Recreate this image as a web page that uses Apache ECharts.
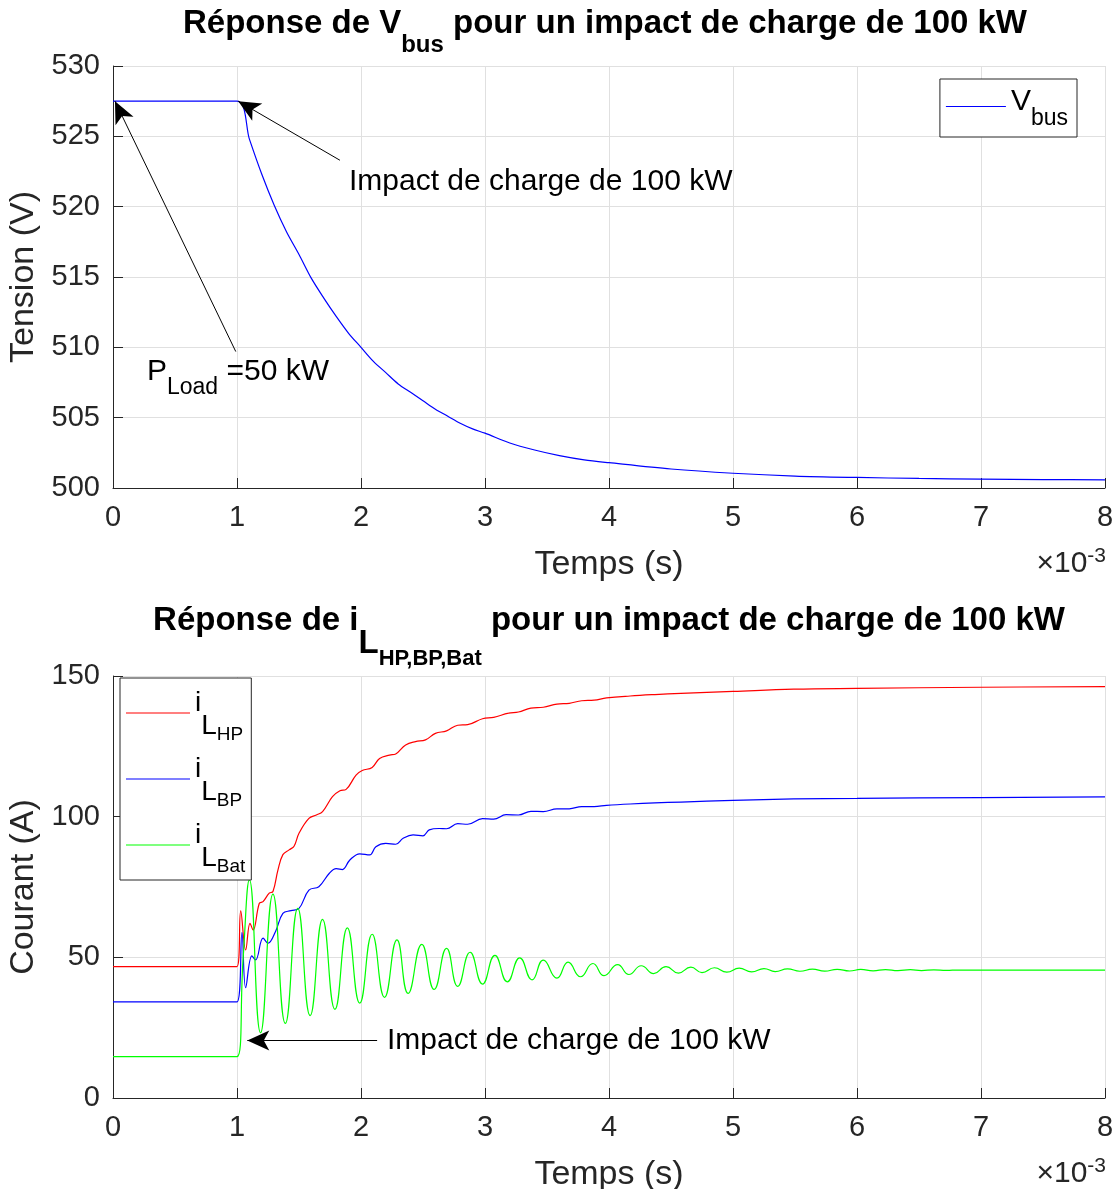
<!DOCTYPE html>
<html><head><meta charset="utf-8">
<script src="https://cdn.jsdelivr.net/npm/echarts@6/dist/echarts.min.js"></script>
<style>html,body{margin:0;padding:0;background:#fff}#c{width:1120px;height:1189px}</style>
</head><body><div id="c"></div>
<script>
// ---- data (time in ms, i.e. x 10^-3 s) ----
const xTicks = [0, 1, 2, 3, 4, 5, 6, 7, 8];
const yTicksTop = [500, 505, 510, 515, 520, 525, 530];
const yTicksBottom = [0, 50, 100, 150];

const vbusT = [0, 1.0, 1.1, 1.2, 1.3, 1.4, 1.5, 1.6, 1.7, 1.8, 1.9, 2.0, 2.1, 2.2, 2.3, 2.4, 2.5, 2.6, 2.7, 2.8, 2.9, 3.0, 3.2, 3.4, 3.6, 3.8, 4.0, 4.5, 5.0, 5.5, 6.0, 6.5, 7.0, 7.5, 8.0];
const vbusV = [527.5, 527.5, 524.8, 522.3, 520.1, 518.2, 516.6, 514.9, 513.5, 512.2, 511.0, 510.0, 509.0, 508.2, 507.4, 506.8, 506.2, 505.6, 505.1, 504.6, 504.2, 503.9, 503.2, 502.7, 502.3, 502.0, 501.8, 501.35, 501.05, 500.85, 500.75, 500.68, 500.63, 500.6, 500.58];

const ihpT = [0, 1.0, 1.03, 1.07, 1.105, 1.13, 1.18, 1.21, 1.26, 1.29, 1.33, 1.37, 1.42, 1.46, 1.50, 1.58, 1.64, 1.69, 1.77, 1.83, 1.88, 1.96, 2.01, 2.09, 2.15, 2.23, 2.28, 2.36, 2.44, 2.52, 2.60, 2.69, 2.78, 2.86, 2.98, 3.07, 3.19, 3.27, 3.37, 3.47, 3.58, 3.68, 3.78, 3.88, 3.98, 4.17, 4.37, 4.58, 5.0, 5.49, 6.0, 7.0, 8.0];
const ihpV = [46.7, 46.7, 66.5, 52.6, 62.1, 59.7, 69.2, 69.8, 72.8, 73.4, 81.0, 86.5, 88.2, 89.5, 94.1, 99.4, 100.6, 101.8, 107.1, 109.2, 109.7, 114.8, 116.4, 117.5, 120.7, 121.9, 122.3, 125.5, 126.7, 127.3, 129.6, 130.5, 132.5, 132.7, 134.8, 135.3, 136.8, 137.2, 138.6, 138.9, 140.0, 140.3, 141.2, 141.4, 142.2, 142.9, 143.4, 143.8, 144.5, 145.3, 145.6, 146.0, 146.2];

const ibpT = [0, 1.0, 1.04, 1.07, 1.12, 1.15, 1.21, 1.25, 1.31, 1.37, 1.435, 1.50, 1.58, 1.66, 1.745, 1.80, 1.85, 1.91, 1.99, 2.07, 2.12, 2.20, 2.28, 2.34, 2.42, 2.50, 2.55, 2.63, 2.69, 2.78, 2.86, 2.98, 3.07, 3.17, 3.27, 3.37, 3.47, 3.58, 3.68, 3.78, 3.88, 3.98, 4.17, 4.37, 4.58, 5.0, 5.49, 6.0, 7.0, 8.0];
const ibpV = [34.2, 34.2, 58.8, 39.2, 50.5, 49.1, 56.8, 55.0, 59.1, 65.6, 66.6, 67.4, 73.9, 75.1, 79.9, 81.5, 81.2, 84.6, 86.8, 86.4, 89.3, 90.5, 90.2, 92.3, 93.5, 93.2, 95.3, 95.8, 95.7, 97.5, 97.3, 99.3, 99.1, 100.7, 100.6, 101.9, 101.8, 102.8, 102.8, 103.6, 103.6, 104.0, 104.5, 104.9, 105.2, 105.8, 106.3, 106.5, 106.8, 107.0];

const ibatT = [0, 1.0, 1.05, 1.10, 1.19, 1.29, 1.39, 1.49, 1.59, 1.69, 1.79, 1.89, 1.99, 2.09, 2.19, 2.29, 2.38, 2.49, 2.59, 2.69, 2.78, 2.88, 2.98, 3.08, 3.18, 3.28, 3.38, 3.47, 3.58, 3.67, 3.77, 3.87, 3.96, 4.07, 4.16, 4.26, 4.36, 4.46, 4.56, 4.66, 4.75, 4.85, 4.95, 5.05, 5.15, 5.25, 5.34, 5.44, 5.54, 5.64, 5.74, 5.84, 5.94, 6.03, 6.13, 6.23, 6.33, 6.43, 6.52, 6.62, 6.72, 6.82, 7.0, 8.0];
const ibatV = [14.7, 14.7, 50.0, 77.5, 23.2, 72.5, 26.5, 67.4, 29.3, 63.5, 31.5, 60.5, 33.7, 58.2, 35.8, 56.2, 37.2, 54.6, 38.6, 53.2, 39.7, 51.8, 40.5, 50.7, 41.3, 49.8, 42.0, 49.0, 42.6, 48.3, 43.1, 47.8, 43.5, 47.4, 43.9, 47.0, 44.2, 46.7, 44.4, 46.5, 44.6, 46.3, 44.75, 46.15, 44.85, 46.0, 44.95, 45.9, 45.05, 45.8, 45.1, 45.75, 45.15, 45.7, 45.2, 45.65, 45.25, 45.6, 45.3, 45.55, 45.35, 45.5, 45.45, 45.45];

// annotation anchor points (data coordinates)
const arrowImpactTop = [[1.83, 523.3], [1.01, 527.5]];
const arrowPLoad = [[0.99, 509.7], [0.016, 527.5]];
const arrowImpactBottom = [[2.13, 20.4], [1.083, 20.4]];
const textImpactTop = [1.903, 521.76];
const textPLoad = [0.274, 508.27];
const textImpactBottom = [2.21, 20.4];

// ---- chart ----
const FONT = '"Liberation Sans", Arial, Helvetica, sans-serif';
const AX = '#262626';
const GRIDC = '#e0e0e0';
const pairs = (t, v) => t.map((x, i) => [x, v[i]]);

function xAxisCfg(gi) {
  return {
    type: 'value', gridIndex: gi, min: xTicks[0], max: xTicks[xTicks.length - 1], interval: xTicks[1] - xTicks[0],
    name: 'Temps (s)', nameLocation: 'middle', nameGap: 60,
    nameTextStyle: { fontSize: 34, color: AX, fontFamily: FONT },
    axisLine: { show: true, onZero: false, lineStyle: { color: AX, width: 1 } },
    axisTick: { show: true, inside: true, length: 10, lineStyle: { color: AX, width: 1 } },
    axisLabel: { fontSize: 29, color: AX, fontFamily: FONT, margin: 15 },
    splitLine: { show: true, lineStyle: { color: GRIDC, width: 1 } }
  };
}
function yAxisCfg(gi, ticks, name) {
  return {
    type: 'value', gridIndex: gi, min: ticks[0], max: ticks[ticks.length - 1], interval: ticks[1] - ticks[0],
    name: name, nameLocation: 'middle', nameGap: 68,
    nameTextStyle: { fontSize: 34, color: AX, fontFamily: FONT },
    axisLine: { show: true, onZero: false, lineStyle: { color: AX, width: 1 } },
    axisTick: { show: true, inside: true, length: 10, lineStyle: { color: AX, width: 1 } },
    axisLabel: { fontSize: 29, color: AX, fontFamily: FONT, margin: 13 },
    splitLine: { show: true, lineStyle: { color: GRIDC, width: 1 } }
  };
}
function arrowLine(seg) {
  return [
    { coord: seg[0], symbol: 'none' },
    { coord: seg[1], symbol: 'arrow', symbolSize: [15, 22] }
  ];
}
const markLineBase = {
  silent: true, animation: false,
  lineStyle: { color: '#000', width: 1, type: 'solid' },
  label: { show: false }, emphasis: { disabled: true },
  itemStyle: { color: '#000' }
};
const markPointBase = {
  silent: true, animation: false, symbol: 'circle', symbolSize: 0,
  itemStyle: { color: 'rgba(0,0,0,0)' },
  label: { show: true, position: 'right', distance: 0, color: '#000', fontSize: 30, fontFamily: FONT }
};

const legendNames = {
  'Vbus': '{m|V}{s|bus}',
  'iL_HP': '{i|i}{l|L}{s|HP}',
  'iL_BP': '{i|i}{l|L}{s|BP}',
  'iL_Bat': '{i|i}{l|L}{s|Bat}'
};
const seriesColors = { 'Vbus': '#0000ff', 'iL_HP': '#ff0000', 'iL_BP': '#0000ff', 'iL_Bat': '#00ff00' };
const legendItem = n => ({ name: n, itemStyle: { color: seriesColors[n], borderWidth: 0 } });

const option = {
  animation: false,
  backgroundColor: '#fff',
  grid: [
    { left: 113, right: 15, top: 66, height: 422, outerBoundsMode: 'none', containLabel: false },
    { left: 113, right: 15, top: 676, height: 422, outerBoundsMode: 'none', containLabel: false }
  ],
  xAxis: [xAxisCfg(0), xAxisCfg(1)],
  yAxis: [yAxisCfg(0, yTicksTop, 'Tension (V)'), yAxisCfg(1, yTicksBottom, 'Courant (A)')],
  legend: [
    {
      data: ['Vbus'].map(legendItem), top: 79, right: 43, orient: 'vertical',
      icon: 'rect', itemWidth: 60, itemHeight: 1, selectedMode: false,
      padding: [8, 9, 7, 6], borderColor: AX, borderWidth: 1, backgroundColor: '#fff',
      formatter: n => legendNames[n],
      textStyle: {
        color: '#000', fontFamily: FONT, fontSize: 30,
        rich: {
          m: { fontSize: 30, lineHeight: 39, verticalAlign: 'top', padding: [0, 0, 0, 0], fontFamily: FONT, color: '#000' },
          s: { fontSize: 23, lineHeight: 39, verticalAlign: 'top', padding: [20, 0, 0, 0], fontFamily: FONT, color: '#000' }
        }
      }
    },
    {
      data: ['iL_HP', 'iL_BP', 'iL_Bat'].map(legendItem), top: 678, left: 120, orient: 'vertical',
      icon: 'rect', itemWidth: 64, itemHeight: 1, itemGap: 5, selectedMode: false,
      padding: [5, 6, 4, 6], borderColor: AX, borderWidth: 1, backgroundColor: '#fff',
      formatter: n => legendNames[n],
      textStyle: {
        color: '#000', fontFamily: FONT, fontSize: 28,
        rich: {
          i: { fontSize: 28, lineHeight: 60, verticalAlign: 'top', padding: [6, 0, 0, 0], fontFamily: FONT, color: '#000' },
          l: { fontSize: 28, lineHeight: 60, verticalAlign: 'top', padding: [29, 0, 0, 0], fontFamily: FONT, color: '#000' },
          s: { fontSize: 19, lineHeight: 60, verticalAlign: 'top', padding: [42, 0, 0, 0], fontFamily: FONT, color: '#000' }
        }
      }
    }
  ],
  graphic: [
    {
      type: 'text', x: 605, y: 7, silent: true,
      style: {
        text: '{a|Réponse de V}{s|bus}{a| pour un impact de charge de 100 kW}',
        align: 'center', verticalAlign: 'top', fill: '#000', fontFamily: FONT,
        rich: {
          a: { fontSize: 33, fontWeight: 'bold', lineHeight: 33, verticalAlign: 'top', fontFamily: FONT, fill: '#000' },
          s: { fontSize: 24, fontWeight: 'bold', lineHeight: 33, verticalAlign: 'top', padding: [26, 0, 0, 0], fontFamily: FONT, fill: '#000' }
        }
      }
    },
    {
      type: 'text', x: 609, y: 604, silent: true,
      style: {
        text: '{a|Réponse de i}{l|L}{s|HP,BP,Bat}{a| pour un impact de charge de 100 kW}',
        align: 'center', verticalAlign: 'top', fill: '#000', fontFamily: FONT,
        rich: {
          a: { fontSize: 33, fontWeight: 'bold', lineHeight: 33, verticalAlign: 'top', fontFamily: FONT, fill: '#000' },
          l: { fontSize: 33, fontWeight: 'bold', lineHeight: 33, verticalAlign: 'top', padding: [23, 0, 0, 0], fontFamily: FONT, fill: '#000' },
          s: { fontSize: 22, fontWeight: 'bold', lineHeight: 33, verticalAlign: 'top', padding: [44, 0, 0, 0], fontFamily: FONT, fill: '#000' }
        }
      }
    },
    {
      type: 'text', x: 1106, y: 546, silent: true,
      style: {
        text: '{a|×10}{b|-3}', align: 'right', verticalAlign: 'top', fill: AX, fontFamily: FONT,
        rich: {
          a: { fontSize: 30, lineHeight: 30, verticalAlign: 'top', padding: [3, 0, 0, 0], fontFamily: FONT, fill: AX },
          b: { fontSize: 21, lineHeight: 30, verticalAlign: 'top', fontFamily: FONT, fill: AX }
        }
      }
    },
    {
      type: 'text', x: 1106, y: 1156, silent: true,
      style: {
        text: '{a|×10}{b|-3}', align: 'right', verticalAlign: 'top', fill: AX, fontFamily: FONT,
        rich: {
          a: { fontSize: 30, lineHeight: 30, verticalAlign: 'top', padding: [3, 0, 0, 0], fontFamily: FONT, fill: AX },
          b: { fontSize: 21, lineHeight: 30, verticalAlign: 'top', fontFamily: FONT, fill: AX }
        }
      }
    }
  ],
  series: [
    {
      name: 'Vbus', type: 'line', xAxisIndex: 0, yAxisIndex: 0,
      data: pairs(vbusT, vbusV), showSymbol: false, smooth: 0.3,
      lineStyle: { color: '#0000ff', width: 1.2 }, itemStyle: { color: '#0000ff' },
      markLine: Object.assign({}, markLineBase, { data: [arrowLine(arrowImpactTop), arrowLine(arrowPLoad)] }),
      markPoint: Object.assign({}, markPointBase, {
        data: [
          { coord: textImpactTop, label: { formatter: 'Impact de charge de 100 kW' } },
          { coord: textPLoad, label: {
              formatter: '{p|P}{s|Load}{p| =50 kW}',
              rich: {
                p: { fontSize: 30, lineHeight: 30, verticalAlign: 'top', fontFamily: FONT, color: '#000' },
                s: { fontSize: 23, lineHeight: 30, verticalAlign: 'top', padding: [19, 0, 0, 0], fontFamily: FONT, color: '#000' }
              } } }
        ]
      })
    },
    {
      name: 'iL_HP', type: 'line', xAxisIndex: 1, yAxisIndex: 1,
      data: pairs(ihpT, ihpV), showSymbol: false, smooth: 0.4,
      lineStyle: { color: '#ff0000', width: 1.2 }, itemStyle: { color: '#ff0000' }
    },
    {
      name: 'iL_BP', type: 'line', xAxisIndex: 1, yAxisIndex: 1,
      data: pairs(ibpT, ibpV), showSymbol: false, smooth: 0.4,
      lineStyle: { color: '#0000ff', width: 1.2 }, itemStyle: { color: '#0000ff' }
    },
    {
      name: 'iL_Bat', type: 'line', xAxisIndex: 1, yAxisIndex: 1,
      data: pairs(ibatT, ibatV), showSymbol: false, smooth: 0.5,
      lineStyle: { color: '#00ff00', width: 1.2 }, itemStyle: { color: '#00ff00' },
      markLine: Object.assign({}, markLineBase, { data: [arrowLine(arrowImpactBottom)] }),
      markPoint: Object.assign({}, markPointBase, {
        data: [{ coord: textImpactBottom, label: { formatter: 'Impact de charge de 100 kW' } }]
      })
    }
  ]
};
const chart = echarts.init(document.getElementById('c'), null, { renderer: 'canvas' });
chart.setOption(option);
</script>
</body></html>
